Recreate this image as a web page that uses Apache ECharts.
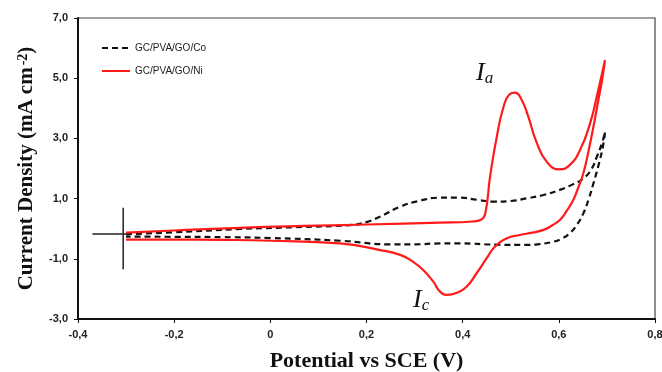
<!DOCTYPE html>
<html>
<head>
<meta charset="utf-8">
<script src="https://cdn.jsdelivr.net/npm/echarts@6/dist/echarts.min.js"></script>
<style>
  html, body { margin: 0; padding: 0; background: #fff; }
  #chart { width: 662px; height: 372px; }
</style>
</head>
<body>
<div id="chart"></div>
<script>
// GC/PVA/GO/Co - forward scan then return scan
const coVoltage = [-0.30, -0.20, -0.063, 0.05, 0.166, 0.20, 0.228, 0.27, 0.311, 0.353, 0.394, 0.43, 0.464, 0.50, 0.533, 0.568, 0.602, 0.630, 0.651, 0.668, 0.679, 0.690, 0.696,
  0.693, 0.684, 0.672, 0.662, 0.651, 0.637, 0.623, 0.606, 0.589, 0.56, 0.533, 0.47, 0.394, 0.353, 0.30, 0.25, 0.145, 0.00, -0.10, -0.20, -0.30]
const coCurrent = [-0.18, -0.12, -0.01, 0.05, 0.12, 0.22, 0.40, 0.73, 0.93, 1.03, 1.03, 0.96, 0.90, 0.92, 1.01, 1.12, 1.29, 1.48, 1.67, 1.98, 2.39, 2.85, 3.22,
  2.84, 2.20, 1.51, 0.98, 0.51, 0.12, -0.15, -0.33, -0.43, -0.51, -0.54, -0.53, -0.49, -0.49, -0.52, -0.52, -0.40, -0.31, -0.28, -0.27, -0.26]

// GC/PVA/GO/Ni
const niVoltage = [-0.30, -0.20, -0.063, 0.10, 0.20, 0.353, 0.42, 0.438, 0.447, 0.457, 0.471, 0.485, 0.497, 0.509, 0.522, 0.536, 0.553, 0.575, 0.602, 0.623, 0.644, 0.665, 0.682, 0.696,
  0.690, 0.682, 0.672, 0.662, 0.651, 0.640, 0.630, 0.616, 0.602, 0.585, 0.568, 0.545, 0.519, 0.492, 0.467, 0.450, 0.429, 0.408, 0.388, 0.367, 0.353, 0.339, 0.318, 0.297, 0.270, 0.228, 0.145, 0.00, -0.10, -0.20, -0.30]
const niCurrent = [-0.13, -0.06, 0.03, 0.10, 0.14, 0.20, 0.24, 0.30, 0.50, 1.73, 3.06, 4.05, 4.46, 4.52, 4.30, 3.75, 2.90, 2.22, 1.97, 2.12, 2.61, 3.50, 4.61, 5.60,
  4.95, 4.25, 3.39, 2.60, 1.84, 1.35, 0.95, 0.58, 0.29, 0.10, -0.04, -0.13, -0.21, -0.32, -0.60, -0.98, -1.48, -1.93, -2.13, -2.20, -2.09, -1.76, -1.37, -1.10, -0.87, -0.71, -0.49, -0.40, -0.37, -0.36, -0.36]

// start-point crosshair
const crossH = [[-0.37, -0.18], [-0.30, -0.18]]
const crossV = [[-0.306, 0.70], [-0.306, -1.35]]

const zip = (xs, ys) => xs.map((x, i) => [x, ys[i]])
const xFmt = v => (Math.abs(v) < 1e-9 ? '0' : v.toFixed(1).replace('.', ','))
const yFmt = v => v.toFixed(1).replace('.', ',')

const myChart = echarts.init(document.getElementById('chart'))
const options = {
  animation: false,
  grid: {
    left: 78, right: 7, top: 18, bottom: 53,
    outerBoundsMode: 'none', containLabel: false,
    show: true, borderColor: '#444', borderWidth: 1.2
  },
  legend: {
    orient: 'vertical',
    left: 96, top: 38,
    itemWidth: 28, itemHeight: 10, itemGap: 13,
    itemStyle: { opacity: 0 },
    data: ['GC/PVA/GO/Co', 'GC/PVA/GO/Ni'],
    textStyle: { fontSize: 10, color: '#222', fontFamily: 'Liberation Sans' }
  },
  xAxis: {
    type: 'value',
    min: -0.4, max: 0.8, interval: 0.2,
    splitLine: { show: false },
    axisLine: { onZero: false, lineStyle: { color: '#111', width: 2 } },
    axisTick: { show: true, length: 4, lineStyle: { color: '#111' } },
    axisLabel: { formatter: xFmt, fontWeight: 'bold', fontSize: 11, color: '#222', margin: 10, fontFamily: 'Liberation Sans' },
    name: 'Potential vs SCE (V)',
    nameLocation: 'middle', nameGap: 31,
    nameTextStyle: { fontFamily: 'Liberation Serif', fontWeight: 'bold', fontSize: 22, color: '#111' }
  },
  yAxis: {
    type: 'value',
    min: -3, max: 7, interval: 2,
    splitLine: { show: false },
    axisLine: { onZero: false, lineStyle: { color: '#111', width: 2 } },
    axisTick: { show: true, length: 4, lineStyle: { color: '#111' } },
    axisLabel: { formatter: yFmt, fontWeight: 'bold', fontSize: 11, color: '#222', margin: 10, fontFamily: 'Liberation Sans' },
    name: '{n|Current Density (mA cm}{s|-2}{n|)}',
    nameLocation: 'middle', nameGap: 40,
    nameTextStyle: {
      rich: {
        n: { fontFamily: 'Liberation Serif', fontWeight: 'bold', fontSize: 21, color: '#111' },
        s: { fontFamily: 'Liberation Serif', fontWeight: 'bold', fontSize: 14, color: '#111', verticalAlign: 'top', padding: [0, 0, 8, 2] }
      }
    }
  },
  series: [
    {
      name: 'GC/PVA/GO/Co', type: 'line', data: zip(coVoltage, coCurrent),
      symbol: 'none', smooth: 0.5,
      lineStyle: { color: '#111', width: 2.2, type: [6, 4] },
      itemStyle: { color: '#111' }
    },
    {
      name: 'GC/PVA/GO/Ni', type: 'line', data: zip(niVoltage, niCurrent),
      symbol: 'none', smooth: 0.5,
      lineStyle: { color: '#ff1a1a', width: 2.2 },
      itemStyle: { color: '#ff1a1a' }
    },
    { type: 'line', data: crossH, symbol: 'none', silent: true, lineStyle: { color: '#222', width: 1.5 } },
    { type: 'line', data: crossV, symbol: 'none', silent: true, lineStyle: { color: '#222', width: 1.5 } }
  ],
  graphic: [
    {
      type: 'text', left: 476, top: 60,
      style: {
        text: '{i|I}{s|a}',
        rich: {
          i: { fontFamily: 'Liberation Serif', fontStyle: 'italic', fontSize: 26, fill: '#111' },
          s: { fontFamily: 'Liberation Serif', fontStyle: 'italic', fontSize: 17, fill: '#111', padding: [12, 0, 0, 0] }
        }
      }
    },
    {
      type: 'text', left: 413, top: 287,
      style: {
        text: '{i|I}{s|c}',
        rich: {
          i: { fontFamily: 'Liberation Serif', fontStyle: 'italic', fontSize: 26, fill: '#111' },
          s: { fontFamily: 'Liberation Serif', fontStyle: 'italic', fontSize: 17, fill: '#111', padding: [12, 0, 0, 0] }
        }
      }
    }
  ]
}
myChart.setOption(options)
window.addEventListener('resize', () => {
  myChart.resize()
})
</script>
</body>
</html>
